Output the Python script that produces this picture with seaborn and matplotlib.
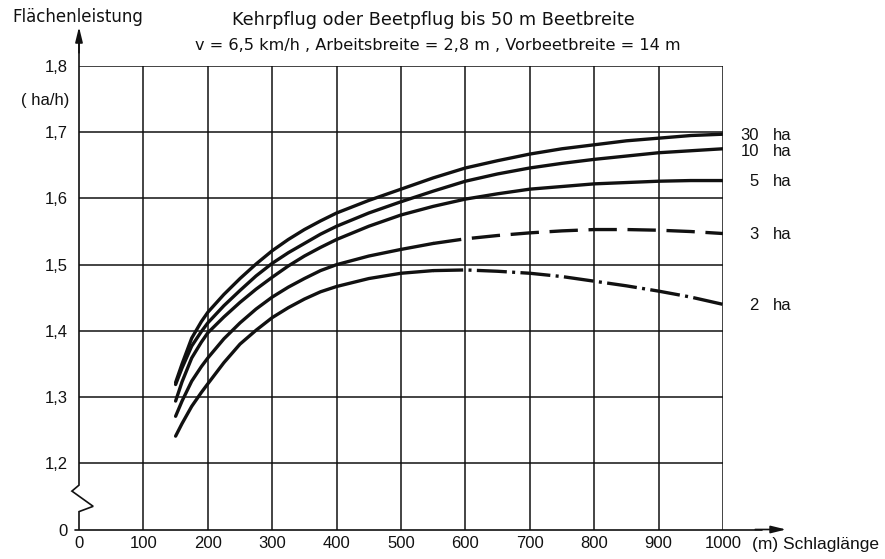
import matplotlib
matplotlib.use("Agg")
import matplotlib.pyplot as plt
import seaborn as sns
import pandas as pd

# ---- data ----
x_main = [150, 160, 175, 190, 200, 225, 250, 275, 300, 325, 350, 375, 400, 450,
          500, 550, 600, 650, 700, 750, 800, 850, 900, 950, 1000]
y_30ha = [1.322, 1.350, 1.389, 1.414, 1.428, 1.455, 1.479, 1.501, 1.521, 1.538, 1.553, 1.566, 1.578, 1.597,
          1.614, 1.631, 1.646, 1.657, 1.667, 1.675, 1.681, 1.687, 1.691, 1.695, 1.697]
y_10ha = [1.319, 1.344, 1.377, 1.399, 1.412, 1.438, 1.461, 1.483, 1.502, 1.518, 1.532, 1.546, 1.558, 1.578,
          1.595, 1.611, 1.626, 1.637, 1.646, 1.653, 1.659, 1.664, 1.669, 1.672, 1.675]
y_5ha = [1.294, 1.323, 1.359, 1.383, 1.397, 1.421, 1.443, 1.463, 1.481, 1.498, 1.513, 1.526, 1.538, 1.558,
         1.575, 1.588, 1.599, 1.607, 1.614, 1.618, 1.622, 1.624, 1.626, 1.627, 1.627]
y_3ha = [1.271, 1.294, 1.324, 1.346, 1.359, 1.388, 1.412, 1.433, 1.451, 1.466, 1.479, 1.491, 1.500, 1.513,
         1.523, 1.532, 1.539, 1.544, 1.548, 1.551, 1.553, 1.553, 1.552, 1.550, 1.547]
y_2ha = [1.241, 1.260, 1.286, 1.307, 1.320, 1.352, 1.380, 1.401, 1.420, 1.435, 1.448, 1.459, 1.467, 1.479,
         1.487, 1.491, 1.492, 1.490, 1.487, 1.482, 1.475, 1.468, 1.460, 1.451, 1.440]

series_labels = ["30", "10", "5", "3", "2"]
split_x = {"30": None, "10": None, "5": None, "3": 550, "2": 550}

x_ticks = [0, 100, 200, 300, 400, 500, 600, 700, 800, 900, 1000]
x_ticklabels = ["0", "100", "200", "300", "400", "500", "600", "700", "800", "900", "1000"]
y_ticks = [1.1, 1.2, 1.3, 1.4, 1.5, 1.6, 1.7, 1.8]   # 1.1 stands for the broken-axis "0"
y_ticklabels = ["0", "1,2", "1,3", "1,4", "1,5", "1,6", "1,7", "1,8"]

title1 = "Kehrpflug oder Beetpflug bis 50 m Beetbreite"
title2 = "v = 6,5 km/h , Arbeitsbreite = 2,8 m , Vorbeetbreite = 14 m"
ylabel = "Flächenleistung"
yunit = "( ha/h)"
xlabel = "(m) Schlaglänge"

# ---- build long table ----
rows = []
data = {"30": y_30ha, "10": y_10ha, "5": y_5ha, "3": y_3ha, "2": y_2ha}
for lab in series_labels:
    for xv, yv in zip(x_main, data[lab]):
        rows.append({"ha": lab, "x": xv, "y": yv})
df = pd.DataFrame(rows)

sns.set_style("white")
plt.rcParams["font.family"] = ["Liberation Sans", "DejaVu Sans"]
INK = "#111111"
HEAD = ["DejaVu Sans"]

fig = plt.figure(figsize=(8.85, 5.59), dpi=100)
ax = fig.add_axes([79 / 885, (559 - 529.5) / 559, (723 - 79) / 885, (529.5 - 66) / 559])
ax.set_xlim(0, 1000)
ax.set_ylim(1.1, 1.8)

lw = 2.4
dash_style = {"3": (0, (8.5, 3.2)), "2": (0, (9, 1.6, 0.9, 1.6))}
for lab in series_labels:
    d = df[df["ha"] == lab]
    sx = split_x[lab]
    if sx is None:
        sns.lineplot(data=d, x="x", y="y", ax=ax, color=INK, lw=lw, estimator=None,
                     solid_capstyle="round")
    else:
        d1 = d[d["x"] <= sx]
        d2 = d[d["x"] >= sx]
        sns.lineplot(data=d1, x="x", y="y", ax=ax, color=INK, lw=lw, estimator=None,
                     solid_capstyle="round")
        sns.lineplot(data=d2, x="x", y="y", ax=ax, color=INK, lw=lw, estimator=None,
                     linestyle=dash_style[lab], dash_capstyle="butt")

# ---- axes, grid ----
for s in ax.spines.values():
    s.set_visible(False)
ax.set_xticks(x_ticks)
ax.set_xticklabels(x_ticklabels, fontsize=12)
ax.set_yticks(y_ticks)
ax.set_yticklabels(y_ticklabels, fontsize=12)
ax.tick_params(axis="x", length=0, pad=5, colors=INK)
ax.tick_params(axis="y", length=6, width=1.1, pad=2, colors=INK, direction="out")
ax.grid(True, color=INK, lw=1.1)
ax.xaxis.get_gridlines()[0].set_visible(False)
ax.yaxis.get_gridlines()[0].set_visible(False)
ax.set_xlabel("")
ax.set_ylabel("")

# y axis with zigzag break and arrow
ax.plot([0, 0, 22, -11, 0, 0], [1.1, 1.127, 1.135, 1.158, 1.167, 1.835],
        color=INK, lw=1.2, clip_on=False, solid_joinstyle="miter")
ax.annotate("", xy=(0, 1.859), xytext=(0, 1.82), annotation_clip=False,
            arrowprops=dict(arrowstyle="-|>,head_length=0.9,head_width=0.22",
                            color=INK, lw=1.2, shrinkA=0, shrinkB=0))
# x axis with arrow
ax.plot([-6, 1060], [1.1, 1.1], color=INK, lw=1.2, clip_on=False)
ax.annotate("", xy=(1098, 1.1), xytext=(1050, 1.1), annotation_clip=False,
            arrowprops=dict(arrowstyle="-|>,head_length=0.9,head_width=0.22",
                            color=INK, lw=1.2, shrinkA=0, shrinkB=0))

# ---- texts ----
fig.text(12 / 885, 1 - 17 / 559, ylabel, fontsize=12, va="center", ha="left",
         color=INK, family=HEAD)
fig.text(45 / 885, 1 - 100 / 559, yunit, fontsize=12, va="center", ha="center", color=INK)
fig.text(433 / 885, 1 - 20 / 559, title1, fontsize=12.7, va="center", ha="center",
         color=INK, family=HEAD)
fig.text(438 / 885, 1 - 45 / 559, title2, fontsize=11.6, va="center", ha="center",
         color=INK, family=HEAD)
fig.text(752 / 885, 1 - 545 / 559, xlabel, fontsize=12.5, va="center", ha="left", color=INK)

label_y = {"30": 135, "10": 151, "5": 181, "3": 234, "2": 305}
for lab in series_labels:
    fig.text(759 / 885, 1 - label_y[lab] / 559, lab, fontsize=12, va="center",
             ha="right", color=INK)
    fig.text(773 / 885, 1 - label_y[lab] / 559, "ha", fontsize=12, va="center",
             ha="left", color=INK)

fig.savefig("out.png", dpi=100, facecolor="white")
